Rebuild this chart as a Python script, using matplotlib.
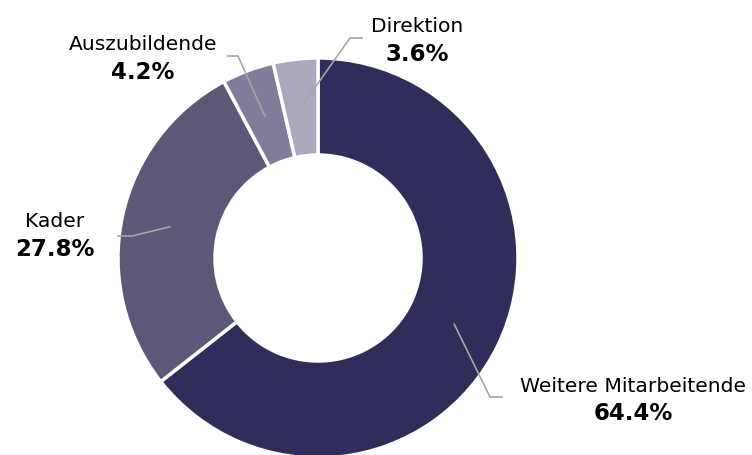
import numpy as np
import matplotlib
matplotlib.use("Agg")
import matplotlib.pyplot as plt

# === Data ===
labels = ["Weitere Mitarbeitende", "Kader", "Auszubildende", "Direktion"]
shares = [64.4, 27.8, 4.2, 3.6]
colors = ["#302d5a", "#5b5878", "#7f7d99", "#aaa8bd"]

# === Layout (pixels, image coords) ===
W, H = 752, 456
CX, CY, R = 318, 259, 200
ring = 0.485
# elbow point, end of horizontal stub, text centre
elbows = [(490, 398), (132, 237), (238, 57), (350, 39)]
stubs = [(502, 398), (118, 237), (228, 57), (362, 39)]
text_pos = [(633, 386), (55, 222), (143, 45), (417, 27)]


def px(x, y):
    return (x - CX) / R, (CY - y) / R


fig = plt.figure(figsize=(W / 100, H / 100), dpi=100)
ax = fig.add_axes([0, 0, 1, 1])

wedges, _ = ax.pie(shares, colors=colors, startangle=90, counterclock=False,
                   radius=1, center=(0, 0),
                   wedgeprops=dict(width=ring, edgecolor="white", linewidth=2.5))

ax.set_aspect("auto")
ax.set_xlim(-CX / R, (W - CX) / R)
ax.set_ylim(-(H - CY) / R, CY / R)
ax.axis("off")

mid_r = 1 - ring / 2
for i, w in enumerate(wedges):
    ang = np.deg2rad((w.theta1 + w.theta2) / 2)
    x0, y0 = mid_r * np.cos(ang), mid_r * np.sin(ang)
    x1, y1 = px(*elbows[i])
    x2, y2 = px(*stubs[i])
    ax.plot([x0, x1, x2], [y0, y1, y2], color="#a6a6a6", lw=1.2,
            solid_joinstyle="miter", zorder=5)
    tx, ty = px(*text_pos[i])
    ax.text(tx, ty, labels[i], ha="center", va="center", fontsize=14.6,
            family="DejaVu Sans", color="black")
    ax.text(tx, ty - 28 / R, f"{shares[i]:.1f}%", ha="center", va="center",
            fontsize=16.5, fontweight="bold", family="DejaVu Sans", color="black")

fig.savefig("out.png", dpi=100)
